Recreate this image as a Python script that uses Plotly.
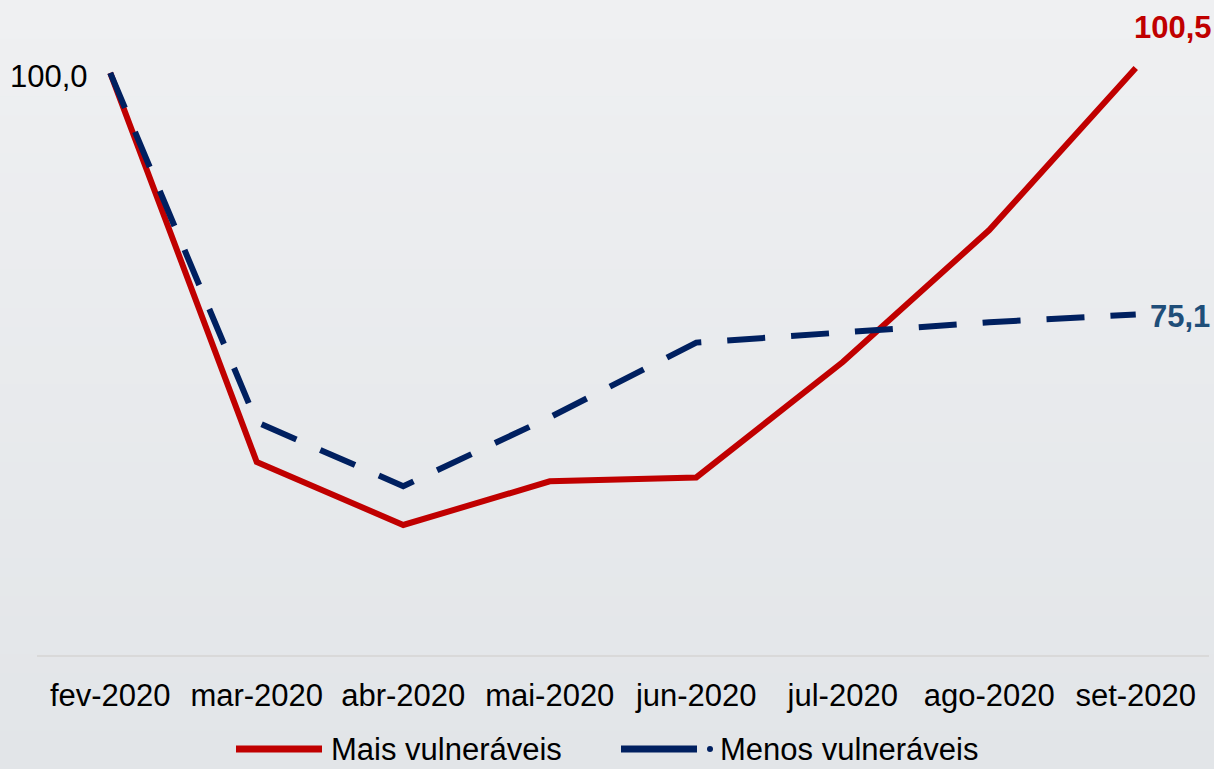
import plotly.graph_objects as go

months = ["fev-2020", "mar-2020", "abr-2020", "mai-2020", "jun-2020", "jul-2020", "ago-2020", "set-2020"]
mais_vulneraveis = [100.0, 59.9, 53.4, 57.9, 58.3, 70.2, 83.8, 100.5]
menos_vulneraveis = [100.0, 64.0, 57.4, 64.5, 72.2, 73.3, 74.3, 75.1]
series_names = ["Mais vulneráveis", "Menos vulneráveis"]

RED = "#c00000"
NAVY = "#002060"
FONT = "Arial, Liberation Sans, sans-serif"

W, H = 1214, 769
ML, MR, MT, MB = 37, 5, 5, 114
PW = W - ML - MR
PH = H - MT - MB

def fmt(v):
    return f"{v:.1f}".replace(".", ",")

fig = go.Figure()
fig.add_trace(go.Scatter(x=months, y=mais_vulneraveis, mode="lines", name=series_names[0],
                         line=dict(color=RED, width=6), showlegend=False))
fig.add_trace(go.Scatter(x=months, y=menos_vulneraveis, mode="lines", name=series_names[1],
                         line=dict(color=NAVY, width=6, dash="38px,26px"), showlegend=False))

# background gradient
shapes = []
n = 40
top = (239, 240, 242)
bot = (226, 229, 232)
for i in range(n):
    t = i / (n - 1)
    c = tuple(round(top[k] + (bot[k] - top[k]) * t) for k in range(3))
    shapes.append(dict(type="rect", xref="paper", yref="paper", layer="below",
                       x0=-ML / PW, x1=1 + MR / PW,
                       y0=1 + MT / PH - (i + 1) * (H / n) / PH - 0.001,
                       y1=1 + MT / PH - i * (H / n) / PH,
                       line=dict(width=0), fillcolor="rgb(%d,%d,%d)" % c))

def px_x(p):
    return (p - ML) / PW

def px_y(p):
    return (MT + PH - p) / PH

# custom legend
ly = 749
shapes.append(dict(type="line", xref="paper", yref="paper", x0=px_x(236), x1=px_x(322),
                   y0=px_y(ly), y1=px_y(ly), line=dict(color=RED, width=7)))
shapes.append(dict(type="line", xref="paper", yref="paper", x0=px_x(621), x1=px_x(697),
                   y0=px_y(ly), y1=px_y(ly), line=dict(color=NAVY, width=7)))
shapes.append(dict(type="circle", xref="paper", yref="paper", x0=px_x(707), x1=px_x(713),
                   y0=px_y(ly + 3), y1=px_y(ly - 3), line=dict(width=0), fillcolor=NAVY))

annotations = [
    dict(x=px_x(329), y=px_y(ly), xref="paper", yref="paper", text=series_names[0],
         showarrow=False, xanchor="left", yanchor="middle",
         font=dict(family=FONT, size=31, color="#000000")),
    dict(x=px_x(718), y=px_y(ly), xref="paper", yref="paper", text=series_names[1],
         showarrow=False, xanchor="left", yanchor="middle",
         font=dict(family=FONT, size=31, color="#000000")),
    dict(x=months[0], y=menos_vulneraveis[0], text=fmt(mais_vulneraveis[0]), showarrow=False,
         xanchor="right", yanchor="middle", xshift=-20, yshift=-4,
         font=dict(family=FONT, size=31, color="#000000")),
    dict(x=months[-1], y=mais_vulneraveis[-1], text="<b>" + fmt(mais_vulneraveis[-1]) + "</b>",
         showarrow=False, xanchor="left", yanchor="middle", xshift=-4, yshift=41,
         font=dict(family=FONT, size=31, color=RED)),
    dict(x=months[-1], y=menos_vulneraveis[-1], text="<b>" + fmt(menos_vulneraveis[-1]) + "</b>",
         showarrow=False, xanchor="left", yanchor="middle", xshift=12, yshift=-2,
         font=dict(family=FONT, size=31, color="#1f4e79")),
]

fig.update_layout(
    width=W, height=H,
    margin=dict(l=ML, r=MR, t=MT, b=MB),
    paper_bgcolor="#e8eaed", plot_bgcolor="rgba(0,0,0,0)",
    shapes=shapes, annotations=annotations,
    showlegend=False,
    font=dict(family=FONT, size=31, color="#000000"),
)
fig.update_xaxes(type="category", range=[-0.5, 7.5], showgrid=False, zeroline=False,
                 showline=True, linecolor="#d9d9d9", linewidth=2,
                 ticks="", ticklabelstandoff=12,
                 tickfont=dict(family=FONT, size=31, color="#000000"))
fig.update_yaxes(range=[40, 107], visible=False, showgrid=False, zeroline=False)

fig.write_html("out.html")
